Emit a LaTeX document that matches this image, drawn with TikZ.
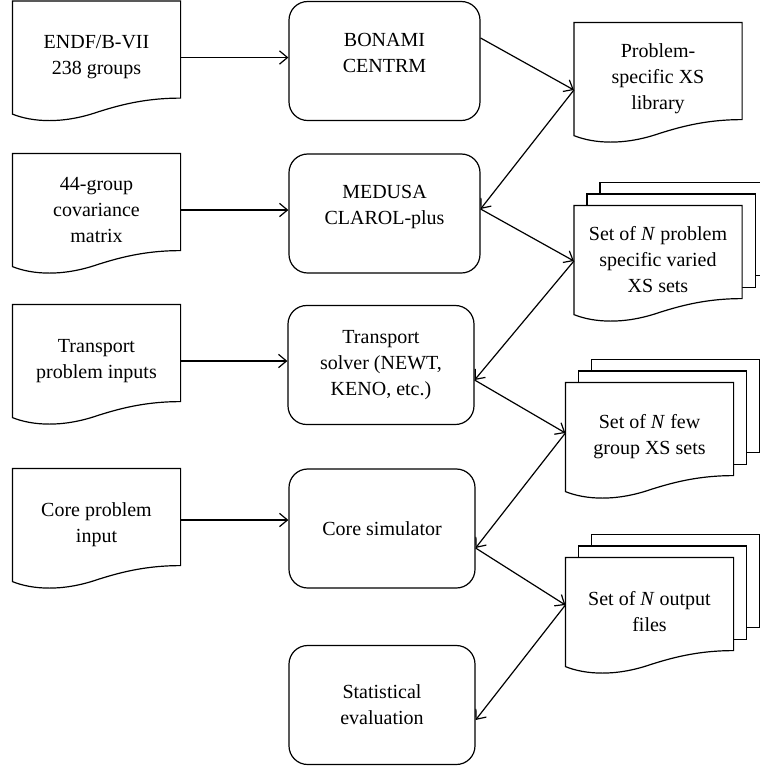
\documentclass[tikz,border=0pt]{standalone}
\usepackage{fontspec}
\setmainfont{Liberation Serif}
\usetikzlibrary{calc,arrows.meta,backgrounds}

\tikzset{every picture/.style={line width=0.9pt}}
\tikzset{
  docnode/.style={rectangle, inner sep=0pt, minimum width=125.25pt, minimum height=84pt, align=center, font=\fontsize{15}{19.5}\selectfont},
  stacknode/.style={docnode, minimum height=81pt},
  procbox/.style={draw, rectangle, rounded corners=14pt, inner sep=0pt, minimum width=139.5pt, minimum height=89.25pt, align=center, font=\fontsize{15}{19.5}\selectfont},
  docline/.style={draw=black, line width=0.9pt, fill=white},
  flow/.style={-{Straight Barb[length=6pt,width=10pt]}}
}

\newcommand{\docoutline}[1]{%
  \draw[docline] (#1.north west) -- (#1.north east) -- ($(#1.south east)+(0,-16)$) .. controls ($(#1.south west)+(135,-16)$) and ($(#1.south west)+(110,-10)$) .. ($(#1.south west)+(85,-2)$) .. controls ($(#1.south west)+(50,10)$) and ($(#1.south west)+(20,8)$) .. (#1.south west) -- cycle ;}
\newcommand{\docsheet}[2]{%
  \draw[docline] ($(#1.north west)+(13*#2,-11.5*#2)$) rectangle ($(#1.south east)+(13*#2,-16-11.5*#2)$) ;}

\begin{document}
\begin{tikzpicture}[x=0.75pt,y=0.75pt,yscale=-1,xscale=1]
\useasboundingbox (0,0) rectangle (760,769);

\node[docnode] (endf) at (96.5,57.5) {ENDF/B-VII\\238 groups};
\node[docnode] (covar) at (96.5,210) {44-group\\covariance\\matrix};
\node[docnode] (trinput) at (96.5,361) {Transport\\problem inputs};
\node[docnode] (coreinput) at (96.5,525) {Core problem\\input};

\node[procbox, minimum width=143.25pt] (bonami) at (384.5,61) {BONAMI\\CENTRM\\[-7pt]\mbox{}};
\node[procbox, minimum width=143.25pt] (medusa) at (384.5,213.5) {MEDUSA\\CLAROL-plus\\[-7pt]\mbox{}};
\node[procbox] (solver) at (381,365) {Transport\\solver (NEWT,\\KENO, etc.)};
\node[procbox] (coresim) at (382,528.5) {Core simulator};
\node[procbox] (stateval) at (382,705) {Statistical\\evaluation};

\node[docnode] (xslib) at (658,79) {Problem-\\specific XS\\library};
\node[stacknode] (variedxs) at (658,260) {Set of \textit{N} problem\\specific varied\\XS sets};
\node[stacknode] (fewgroup) at (649.5,437) {Set of \textit{N} few\\group XS sets};
\node[stacknode] (outfiles) at (649.5,612) {Set of \textit{N} output\\files};

\begin{scope}[on background layer]
\fill[white] (0,0) rectangle (760,769);
\clip (0,0) rectangle (760,769);
\docoutline{endf}
\docoutline{covar}
\docoutline{trinput}
\docoutline{coreinput}
\docoutline{xslib}
\docsheet{variedxs}{2} \docsheet{variedxs}{1} \docoutline{variedxs}
\docsheet{fewgroup}{2} \docsheet{fewgroup}{1} \docoutline{fewgroup}
\docsheet{outfiles}{2} \docsheet{outfiles}{1} \docoutline{outfiles}
\end{scope}

\draw[flow] (endf.east) -- (endf.east -| bonami.west);
\draw[flow] (covar.east) -- (covar.east -| medusa.west);
\draw[flow] (trinput.east) -- (trinput.east -| solver.west);
\draw[flow] ($(coreinput.east)+(0,-5)$) -- ($(coresim.west)+(0,-8.5)$);

\draw[flow] ($(bonami.east)+(0,-23)$) -- ($(xslib.west)+(0,11)$);
\draw[flow] ($(xslib.west)+(0,11)$) -- ($(medusa.east)+(0,-4.5)$);
\draw[flow] ($(medusa.east)+(0,-4.5)$) -- ($(variedxs.west)+(0,1)$);
\draw[flow] ($(variedxs.west)+(0,1)$) -- ($(solver.east)+(0,15)$);
\draw[flow] ($(solver.east)+(0,15)$) -- ($(fewgroup.west)+(0,-4)$);
\draw[flow] ($(fewgroup.west)+(0,-4)$) -- ($(coresim.east)+(0,19.5)$);
\draw[flow] ($(coresim.east)+(0,19.5)$) -- ($(outfiles.west)+(0,-7)$);
\draw[flow] ($(outfiles.west)+(0,-7)$) -- ($(stateval.east)+(0,15)$);

\end{tikzpicture}
\end{document}
